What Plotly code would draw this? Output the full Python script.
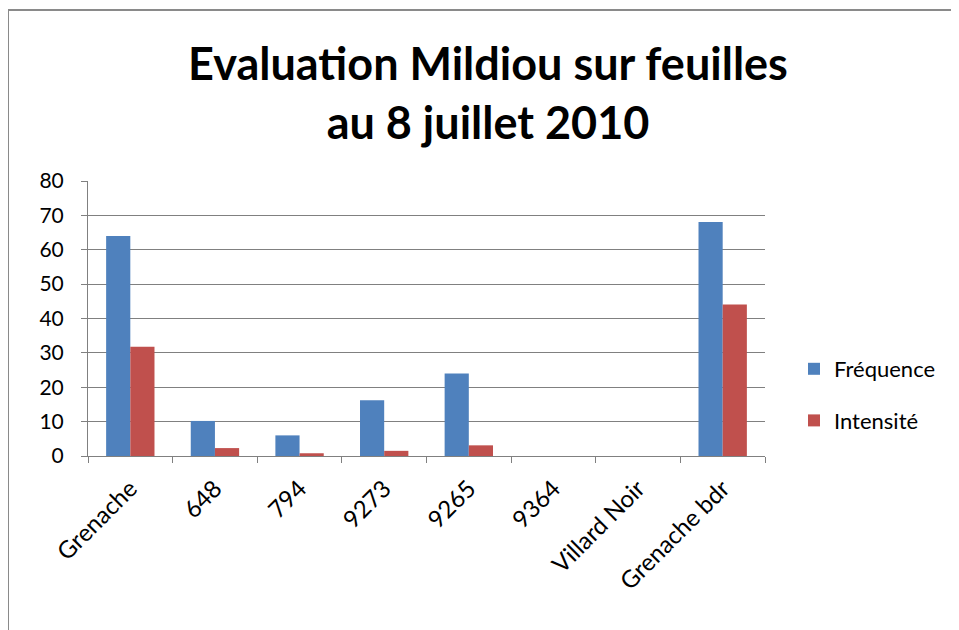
import plotly.graph_objects as go

categories = ["Grenache", "648", "794", "9273", "9265", "9364", "Villard Noir", "Grenache bdr"]
frequence = [64, 10.2, 6, 16.2, 24, 0, 0, 68.1]
intensite = [31.8, 2.3, 0.8, 1.5, 3.1, 0, 0, 44.1]
y_ticks = [0, 10, 20, 30, 40, 50, 60, 70, 80]

OFF = 8  # page body margin
W, H = 959 - OFF, 630 - OFF
# plot area in screen pixels
SL, SR, ST, SB = 88, 765, 181, 456
L, R, T, B = SL - OFF, SR - OFF, ST - OFF, SB - OFF
FONT = "Lato, 'Open Sans', sans-serif"

def px(x):  # screen x -> paper
    return (x - SL) / (SR - SL)

def py(y):  # screen y -> paper
    return (SB - y) / (SB - ST)

fig = go.Figure()
fig.add_trace(go.Bar(x=categories, y=frequence, name="Fréquence",
                     marker=dict(color="#4F81BD", line=dict(width=0)),
                     legendgroup="a"))
fig.add_trace(go.Bar(x=categories, y=intensite, name="Intensité",
                     marker=dict(color="#C0504D", line=dict(width=0)),
                     legendgroup="b"))

fig.update_layout(
    width=W, height=H,
    margin=dict(l=L, r=W - R, t=T, b=H - B, pad=0),
    paper_bgcolor="white", plot_bgcolor="white",
    barmode="group", bargap=1.5 / 3.5, bargroupgap=0,
    font=dict(family=FONT, size=21, color="#000000"),
    title=dict(text="<b>Evaluation Mildiou sur feuilles<br>au 8 juillet 2010</b>",
               x=(488 - OFF) / W, xanchor="center", xref="container",
               y=1 - (80 - OFF) / H, yanchor="middle", yref="container",
               font=dict(family=FONT, size=45, color="#000000")),
    legend=dict(x=px(794), y=py(395), xanchor="left", yanchor="middle",
                font=dict(family=FONT, size=22, color="#000000"),
                tracegroupgap=20, bgcolor="rgba(0,0,0,0)"),
    xaxis=dict(type="category", showgrid=False, showline=True, linecolor="#808080", linewidth=1,
               ticks="outside", tickson="boundaries", ticklen=6, tickcolor="#808080",
               tickangle=-45, ticklabelstandoff=8,
               tickfont=dict(family=FONT, size=24, color="#000000")),
    yaxis=dict(range=[0, 80], tickvals=y_ticks, showgrid=True, gridcolor="#808080", gridwidth=1,
               showline=True, linecolor="#808080", linewidth=1, zeroline=False,
               ticks="outside", ticklen=6, tickcolor="#808080",
               ticklabelstandoff=13,
               tickfont=dict(family=FONT, size=21, color="#000000")),
    shapes=[
        dict(type="line", xref="paper", yref="paper", x0=px(8), x1=px(975), y0=py(10), y1=py(10),
             line=dict(color="#8A8A8A", width=2)),
        dict(type="line", xref="paper", yref="paper", x0=px(8), x1=px(8), y0=py(10), y1=py(640),
             line=dict(color="#8A8A8A", width=2)),
    ],
)

fig.write_html("out.html")
